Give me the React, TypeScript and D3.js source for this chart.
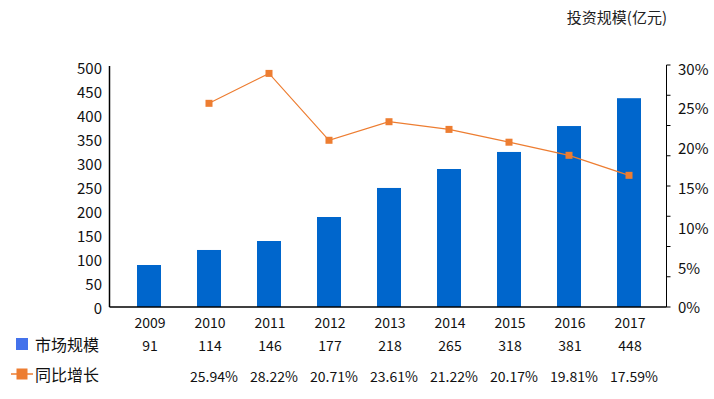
import React from "react";
import * as d3 from "d3";

const years = ["2009", "2010", "2011", "2012", "2013", "2014", "2015", "2016", "2017"];
// bar heights
const scaleValues = [87.5, 118.8, 137.5, 187.5, 248, 287.5, 323, 377, 435];
// growth line (2009 has none)
const growthValues: (number | null)[] = [null, 0.2546, 0.292, 0.2084, 0.2316, 0.222, 0.206, 0.1896, 0.1646];
// table row labels
const scaleLabels = ["91", "114", "146", "177", "218", "265", "318", "381", "448"];
const growthLabels = ["", "25.94%", "28.22%", "20.71%", "23.61%", "21.22%", "20.17%", "19.81%", "17.59%"];
const leftTicks = [0, 50, 100, 150, 200, 250, 300, 350, 400, 450, 500];
const rightTicks = [0, 0.05, 0.1, 0.15, 0.2, 0.25, 0.3];

const font = "'Noto Sans CJK SC', 'Noto Sans', sans-serif";

const App = () => {
  const width = 714, height = 399;
  const left = 109.5, right = 666.5;
  const top = 66, bottom = 307;

  const x = d3.scalePoint<string>().domain(years).range([149, 629]);
  const y = d3.scaleLinear().domain([0, 500]).range([bottom, 67]);
  const y2 = d3.scaleLinear().domain([0, 0.3]).range([bottom, 67]);
  const barW = 24;

  const pts = years
    .map((yr, i) => ({ yr, v: growthValues[i] }))
    .filter(d => d.v !== null) as { yr: string; v: number }[];

  const line = d3.line<{ yr: string; v: number }>()
    .x(d => x(d.yr)!)
    .y(d => y2(d.v));

  // minor ticks on right axis: 8 equal intervals
  const rightMarks = d3.range(0, 9).map(i => bottom - (i * (bottom - 65)) / 8);

  return (
    <svg width={width} height={height} style={{ position: "absolute", left: 0, top: 0 }} fontFamily={font}>
      <rect width={width} height={height} fill="#fff" />
      <text x={667} y={16} textAnchor="end" dominantBaseline="central" fontSize={15} fill="#222">投资规模(亿元)</text>

      {scaleValues.map((v, i) => (
        <rect key={years[i]} x={x(years[i])! - barW / 2} y={y(v)} width={barW} height={bottom - y(v)} fill="#0066CC" />
      ))}

      <line x1={left} x2={left} y1={top} y2={bottom} stroke="#000" strokeWidth={1.5} />
      <line x1={left} x2={right} y1={bottom} y2={bottom} stroke="#000" strokeWidth={1.5} />
      <line x1={right} x2={right} y1={65} y2={bottom} stroke="#000" strokeWidth={1} />
      {rightMarks.map((yy, i) => (
        <line key={i} x1={right} x2={right + 4} y1={yy} y2={yy} stroke="#000" strokeWidth={1} />
      ))}

      {leftTicks.map(t => (
        <text key={t} x={102} y={y(t)} textAnchor="end" dominantBaseline="central" fontSize={15} fill="#111">{t}</text>
      ))}
      {rightTicks.map(t => (
        <text key={t} x={678} y={y2(t) + (t === 0.3 ? 1 : t === 0 ? -1 : 0)} dominantBaseline="central" fontSize={15} fill="#111">{`${Math.round(t * 100)}%`}</text>
      ))}

      <path d={line(pts)!} fill="none" stroke="#ED7D31" strokeWidth={1.2} />
      {pts.map(d => (
        <rect key={d.yr} x={x(d.yr)! - 3.5} y={y2(d.v) - 3.5} width={7} height={7} fill="#ED7D31" />
      ))}

      {years.map(yr => (
        <text key={yr} x={x(yr)! + 1} y={322} textAnchor="middle" dominantBaseline="central" fontSize={14} fill="#111">{yr}</text>
      ))}

      <rect x={16} y={338} width={12} height={12} fill="#4472EB" />
      <text x={35} y={344} dominantBaseline="central" fontSize={16} fill="#111">市场规模</text>
      {scaleLabels.map((s, i) => (
        <text key={i} x={x(years[i])! + 1} y={344.5} textAnchor="middle" dominantBaseline="central" fontSize={14} fill="#111">{s}</text>
      ))}

      <line x1={11} x2={33} y1={374} y2={374} stroke="#ED7D31" strokeWidth={1.5} />
      <rect x={16.5} y={368.5} width={11} height={11} fill="#ED7D31" />
      <text x={35} y={374} dominantBaseline="central" fontSize={16} fill="#111">同比增长</text>
      {growthLabels.map((s, i) => (
        <text key={i} x={x(years[i])! + 5} y={375.5} textAnchor="middle" dominantBaseline="central" fontSize={14} fill="#111">{s}</text>
      ))}
    </svg>
  );
};

export default App;
